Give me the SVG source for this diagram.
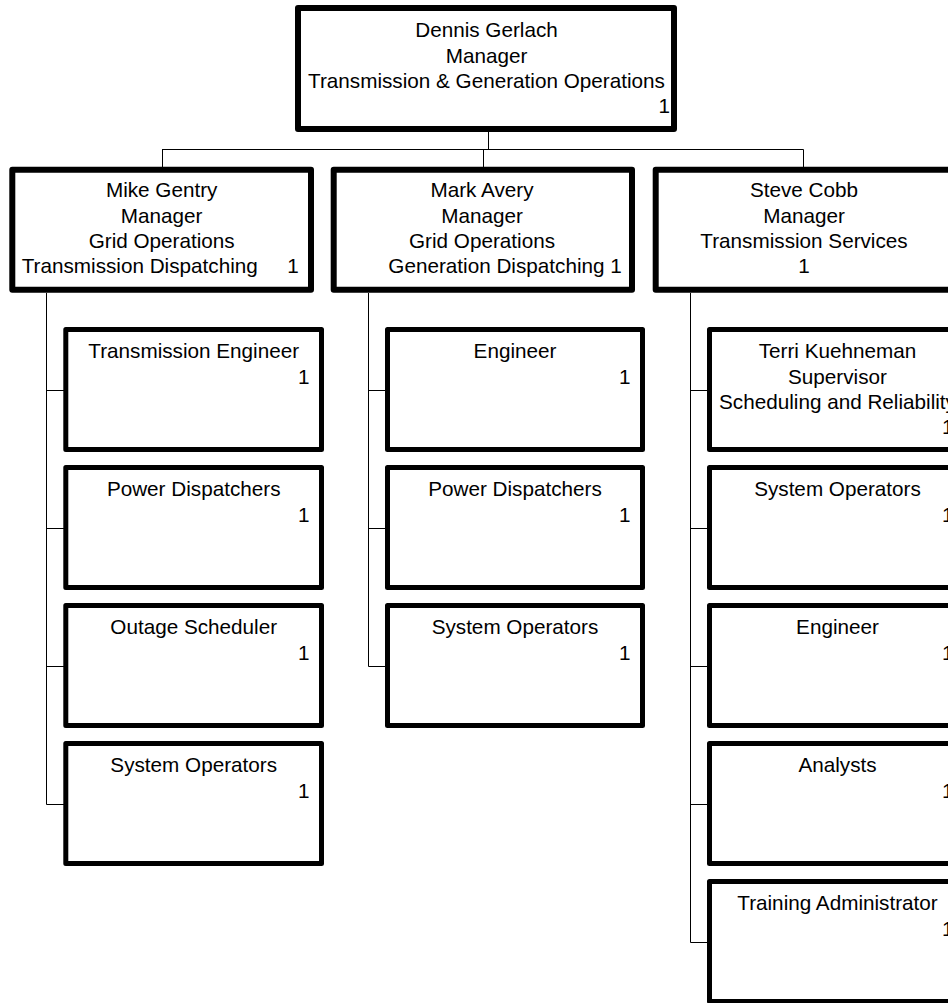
<svg xmlns="http://www.w3.org/2000/svg" width="948" height="1003" viewBox="0 0 948 1003">
<style>
.box{fill:#fff;stroke:#000;stroke-linejoin:round}
.b6{stroke-width:6}
.b5{stroke-width:5}
text{font-family:"Liberation Sans",Arial,sans-serif;font-size:20.7px;fill:#000}
.c{text-anchor:middle}
.e{text-anchor:end}
.conn{fill:none;stroke:#000;stroke-width:1}
</style>
<rect width="948" height="1003" fill="#fff"/>
<g id="connectors" class="conn">
<path d="M488.5 132V149.5M162 149.5H803.5M162.5 149.5V167M483.5 149.5V167M803.5 149.5V167"/>
<path d="M46.5 293V804.5M46.5 390.5H64M46.5 528.5H64M46.5 666.5H64M46.5 804.5H64"/>
<path d="M368.5 293V666.5M368.5 390.5H386M368.5 528.5H386M368.5 666.5H386"/>
<path d="M690.5 293V942.5M690.5 390.5H708M690.5 528.5H708M690.5 666.5H708M690.5 804.5H708M690.5 942.5H708"/>
</g>
<g id="dennis">
<rect class="box b6" x="298" y="8" width="376" height="121"/>
<text class="c" x="486.5" y="37.3">Dennis Gerlach</text>
<text class="c" x="486.5" y="62.7">Manager</text>
<text class="c" x="486.5" y="88">Transmission &amp; Generation Operations</text>
<text class="e" x="670" y="113.3">1</text>
</g>
<g id="mike">
<rect class="box b6" x="12.3" y="169.7" width="298.7" height="120"/>
<text class="c" x="161.7" y="197.3">Mike Gentry</text>
<text class="c" x="161.7" y="222.6">Manager</text>
<text class="c" x="161.7" y="248">Grid Operations</text>
<text x="21.7" y="273.3">Transmission Dispatching</text>
<text class="e" x="298.7" y="273.3">1</text>
</g>
<g id="mark">
<rect class="box b6" x="333.7" y="169.7" width="298.3" height="120"/>
<text class="c" x="482" y="197.3">Mark Avery</text>
<text class="c" x="482" y="222.6">Manager</text>
<text class="c" x="482" y="248">Grid Operations</text>
<text x="388.3" y="273.3">Generation Dispatching 1</text>
</g>
<g id="steve">
<rect class="box b6" x="655.7" y="169.7" width="299.3" height="120"/>
<text class="c" x="804" y="197.3">Steve Cobb</text>
<text class="c" x="804" y="222.6">Manager</text>
<text class="c" x="804" y="248">Transmission Services</text>
<text class="c" x="804" y="273.3">1</text>
</g>
<g id="c1-transmission-engineer">
<rect class="box b5" x="65.8" y="329.5" width="255.7" height="120"/>
<text class="c" x="193.7" y="358.3">Transmission Engineer</text>
<text class="e" x="309.5" y="384">1</text>
</g>
<g id="c1-power-dispatchers">
<rect class="box b5" x="65.8" y="467.5" width="255.7" height="120"/>
<text class="c" x="193.7" y="496.3">Power Dispatchers</text>
<text class="e" x="309.5" y="522">1</text>
</g>
<g id="c1-outage-scheduler">
<rect class="box b5" x="65.8" y="605.5" width="255.7" height="120"/>
<text class="c" x="193.7" y="634.3">Outage Scheduler</text>
<text class="e" x="309.5" y="660">1</text>
</g>
<g id="c1-system-operators">
<rect class="box b5" x="65.8" y="743.5" width="255.7" height="120"/>
<text class="c" x="193.7" y="772.3">System Operators</text>
<text class="e" x="309.5" y="798">1</text>
</g>
<g id="c2-engineer">
<rect class="box b5" x="387.5" y="329.5" width="255" height="120"/>
<text class="c" x="515" y="358.3">Engineer</text>
<text class="e" x="630.5" y="384">1</text>
</g>
<g id="c2-power-dispatchers">
<rect class="box b5" x="387.5" y="467.5" width="255" height="120"/>
<text class="c" x="515" y="496.3">Power Dispatchers</text>
<text class="e" x="630.5" y="522">1</text>
</g>
<g id="c2-system-operators">
<rect class="box b5" x="387.5" y="605.5" width="255" height="120"/>
<text class="c" x="515" y="634.3">System Operators</text>
<text class="e" x="630.5" y="660">1</text>
</g>
<g id="c3-terri">
<rect class="box b5" x="709.5" y="329.5" width="256" height="120"/>
<text class="c" x="837.5" y="358.3">Terri Kuehneman</text>
<text class="c" x="837.5" y="383.6">Supervisor</text>
<text class="c" x="837.5" y="409">Scheduling and Reliability</text>
<text class="e" x="953.5" y="434.3">1</text>
</g>
<g id="c3-system-operators">
<rect class="box b5" x="709.5" y="467.5" width="256" height="120"/>
<text class="c" x="837.5" y="496.3">System Operators</text>
<text class="e" x="953.5" y="522">1</text>
</g>
<g id="c3-engineer">
<rect class="box b5" x="709.5" y="605.5" width="256" height="120"/>
<text class="c" x="837.5" y="634.3">Engineer</text>
<text class="e" x="953.5" y="660">1</text>
</g>
<g id="c3-analysts">
<rect class="box b5" x="709.5" y="743.5" width="256" height="120"/>
<text class="c" x="837.5" y="772.3">Analysts</text>
<text class="e" x="953.5" y="798">1</text>
</g>
<g id="c3-training-administrator">
<rect class="box b5" x="709.5" y="881.5" width="256" height="120"/>
<text class="c" x="837.5" y="910.3">Training Administrator</text>
<text class="e" x="953.5" y="936">1</text>
</g>
</svg>
